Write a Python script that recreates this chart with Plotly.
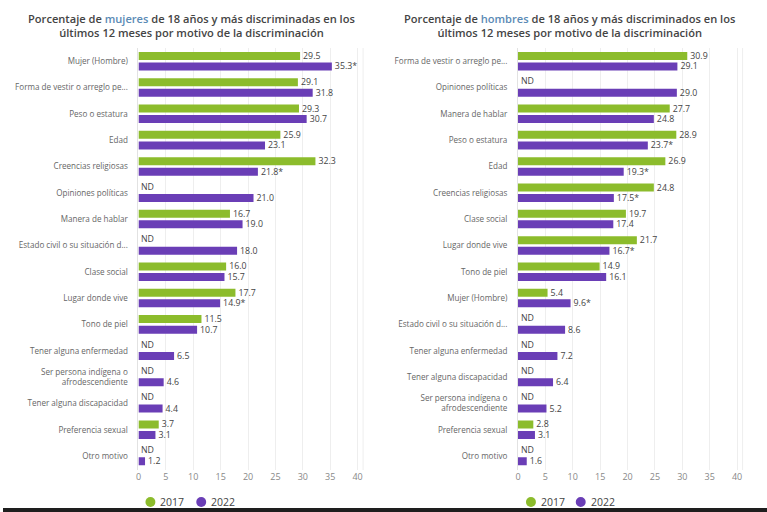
import plotly.graph_objects as go

# ---------------- data ----------------
cats_m = ["Mujer (Hombre)", "Forma de vestir o arreglo pe...", "Peso o estatura", "Edad",
          "Creencias religiosas", "Opiniones políticas", "Manera de hablar",
          "Estado civil o su situación d...", "Clase social", "Lugar donde vive", "Tono de piel",
          "Tener alguna enfermedad", "Ser persona indígena o<br>afrodescendiente",
          "Tener alguna discapacidad", "Preferencia sexual", "Otro motivo"]
m_2017 = [29.5, 29.1, 29.3, 25.9, 32.3, None, 16.7, None, 16.0, 17.7, 11.5, None, None, None, 3.7, None]
m_2022 = [35.3, 31.8, 30.7, 23.1, 21.8, 21.0, 19.0, 18.0, 15.7, 14.9, 10.7, 6.5, 4.6, 4.4, 3.1, 1.2]
m_sig22 = [True, False, False, False, True, False, False, False, False, True, False, False, False, False, False, False]

cats_h = ["Forma de vestir o arreglo pe...", "Opiniones políticas", "Manera de hablar", "Peso o estatura",
          "Edad", "Creencias religiosas", "Clase social", "Lugar donde vive", "Tono de piel",
          "Mujer (Hombre)", "Estado civil o su situación d...", "Tener alguna enfermedad",
          "Tener alguna discapacidad", "Ser persona indígena o<br>afrodescendiente",
          "Preferencia sexual", "Otro motivo"]
h_2017 = [30.9, None, 27.7, 28.9, 26.9, 24.8, 19.7, 21.7, 14.9, 5.4, None, None, None, None, 2.8, None]
h_2022 = [29.1, 29.0, 24.8, 23.7, 19.3, 17.5, 17.4, 16.7, 16.1, 9.6, 8.6, 7.2, 6.4, 5.2, 3.1, 1.6]
h_sig22 = [False, False, False, True, True, True, False, True, False, True, False, False, False, False, False, False]

x_ticks = [0, 5, 10, 15, 20, 25, 30, 35, 40]
years = ["2017", "2022"]

# ---------------- style ----------------
GREEN = "#8cbc2c"
PURPLE = "#6a3eb6"
FONT = "Open Sans"
W, H = 767, 512


def lab(vals, sig=None):
    out = []
    for i, v in enumerate(vals):
        if v is None:
            out.append("")
        else:
            out.append(f"{v:.1f}" + ("*" if sig and sig[i] else ""))
    return out


fig = go.Figure()

panels = [
    (cats_m, m_2017, m_2022, m_sig22, "x", "y", (148, 199)),
    (cats_h, h_2017, h_2022, h_sig22, "x2", "y2", (530, 580)),
]

for cats, v17, v22, s22, xa, ya, leg_x in panels:
    for vals, sig, col, yr in [(v17, None, GREEN, years[0]), (v22, s22, PURPLE, years[1])]:
        fig.add_trace(go.Bar(
            y=cats, x=vals, orientation="h", name=yr, text=lab(vals, sig),
            textposition="outside", cliponaxis=False, constraintext="none",
            textfont=dict(size=8.8, color="#444", family=FONT),
            marker=dict(color=col, line=dict(width=0)),
            xaxis=xa, yaxis=ya, showlegend=False, hoverinfo="x+y"))
    # ND annotations for missing 2017 values
    for c, v in zip(cats, v17):
        if v is None:
            fig.add_annotation(x=0, y=c, xref=xa, yref=ya, text="ND", showarrow=False,
                               xanchor="left", yanchor="middle", xshift=1, yshift=6,
                               font=dict(size=8.8, color="#444", family=FONT))
    # manual legend (circle + label)
    for yr, col, cx in zip(years, [GREEN, PURPLE], leg_x):
        cy = 502
        fig.add_shape(type="circle", xref="paper", yref="paper",
                      x0=(cx - 5) / W, x1=(cx + 5) / W, y0=(H - cy - 5) / H, y1=(H - cy + 5) / H,
                      fillcolor=col, line=dict(width=0))
        fig.add_annotation(text=yr, x=(cx + 8) / W, y=(H - cy) / H, xref="paper", yref="paper",
                           showarrow=False, xanchor="left", yanchor="middle",
                           font=dict(size=10.5, color="#444", family=FONT, weight=500))
    # faint right edge line of plot area
    dom = "x domain" if xa == "x" else "x2 domain"
    ydm = "y domain" if ya == "y" else "y2 domain"
    fig.add_shape(type="line", xref=dom, yref=ydm, x0=1, x1=1, y0=0, y1=1,
                  line=dict(color="#eeeeee", width=1), layer="below")

ydom = [(H - 470) / H, (H - 48) / H]
axx = dict(range=[0, 41], tickvals=x_ticks, showgrid=True, gridcolor="#eeeeee", gridwidth=1,
           zeroline=False, showline=False, ticks="",
           tickfont=dict(size=9, color="#888", family=FONT), fixedrange=True)
axy = dict(type="category", autorange="reversed", showgrid=False, zeroline=False,
           showline=True, linecolor="#e2e2e2", linewidth=1, ticks="", ticklabelstandoff=8,
           tickfont=dict(size=8.1, color="#666", family=FONT), domain=ydom)

fig.update_layout(
    width=W, height=H, margin=dict(l=0, r=0, t=0, b=0),
    paper_bgcolor="white", plot_bgcolor="white",
    barmode="group", bargap=0.2, bargroupgap=0.24,
    font=dict(family=FONT, color="#444"),
    showlegend=False,
    xaxis=dict(axx, domain=[136 / W, 361.5 / W], anchor="y"),
    yaxis=dict(axy, anchor="x"),
    xaxis2=dict(axx, domain=[517 / W, 742.5 / W], anchor="y2"),
    yaxis2=dict(axy, anchor="x2"),
)

titles = [
    ("Porcentaje de <span style='color:#5a8ab5'>mujeres</span> de 18 años y más discriminadas en los<br>últimos 12 meses por motivo de la discriminación", 189),
    ("Porcentaje de <span style='color:#5a8ab5'>hombres</span> de 18 años y más discriminados en los<br>últimos 12 meses por motivo de la discriminación", 569),
]
for t, cx in titles:
    fig.add_annotation(text=t, x=cx / W, y=(H - 25) / H, xref="paper", yref="paper",
                       showarrow=False, xanchor="center", yanchor="middle", align="center",
                       font=dict(size=11.1, color="#444", family=FONT, weight=600))

# dark strip at the very bottom of the screenshot
fig.add_shape(type="rect", xref="paper", yref="paper", x0=0, x1=1, y0=0, y1=4 / H,
              fillcolor="#1e1e1e", line=dict(width=0), layer="above")

fig.write_html("out.html")
